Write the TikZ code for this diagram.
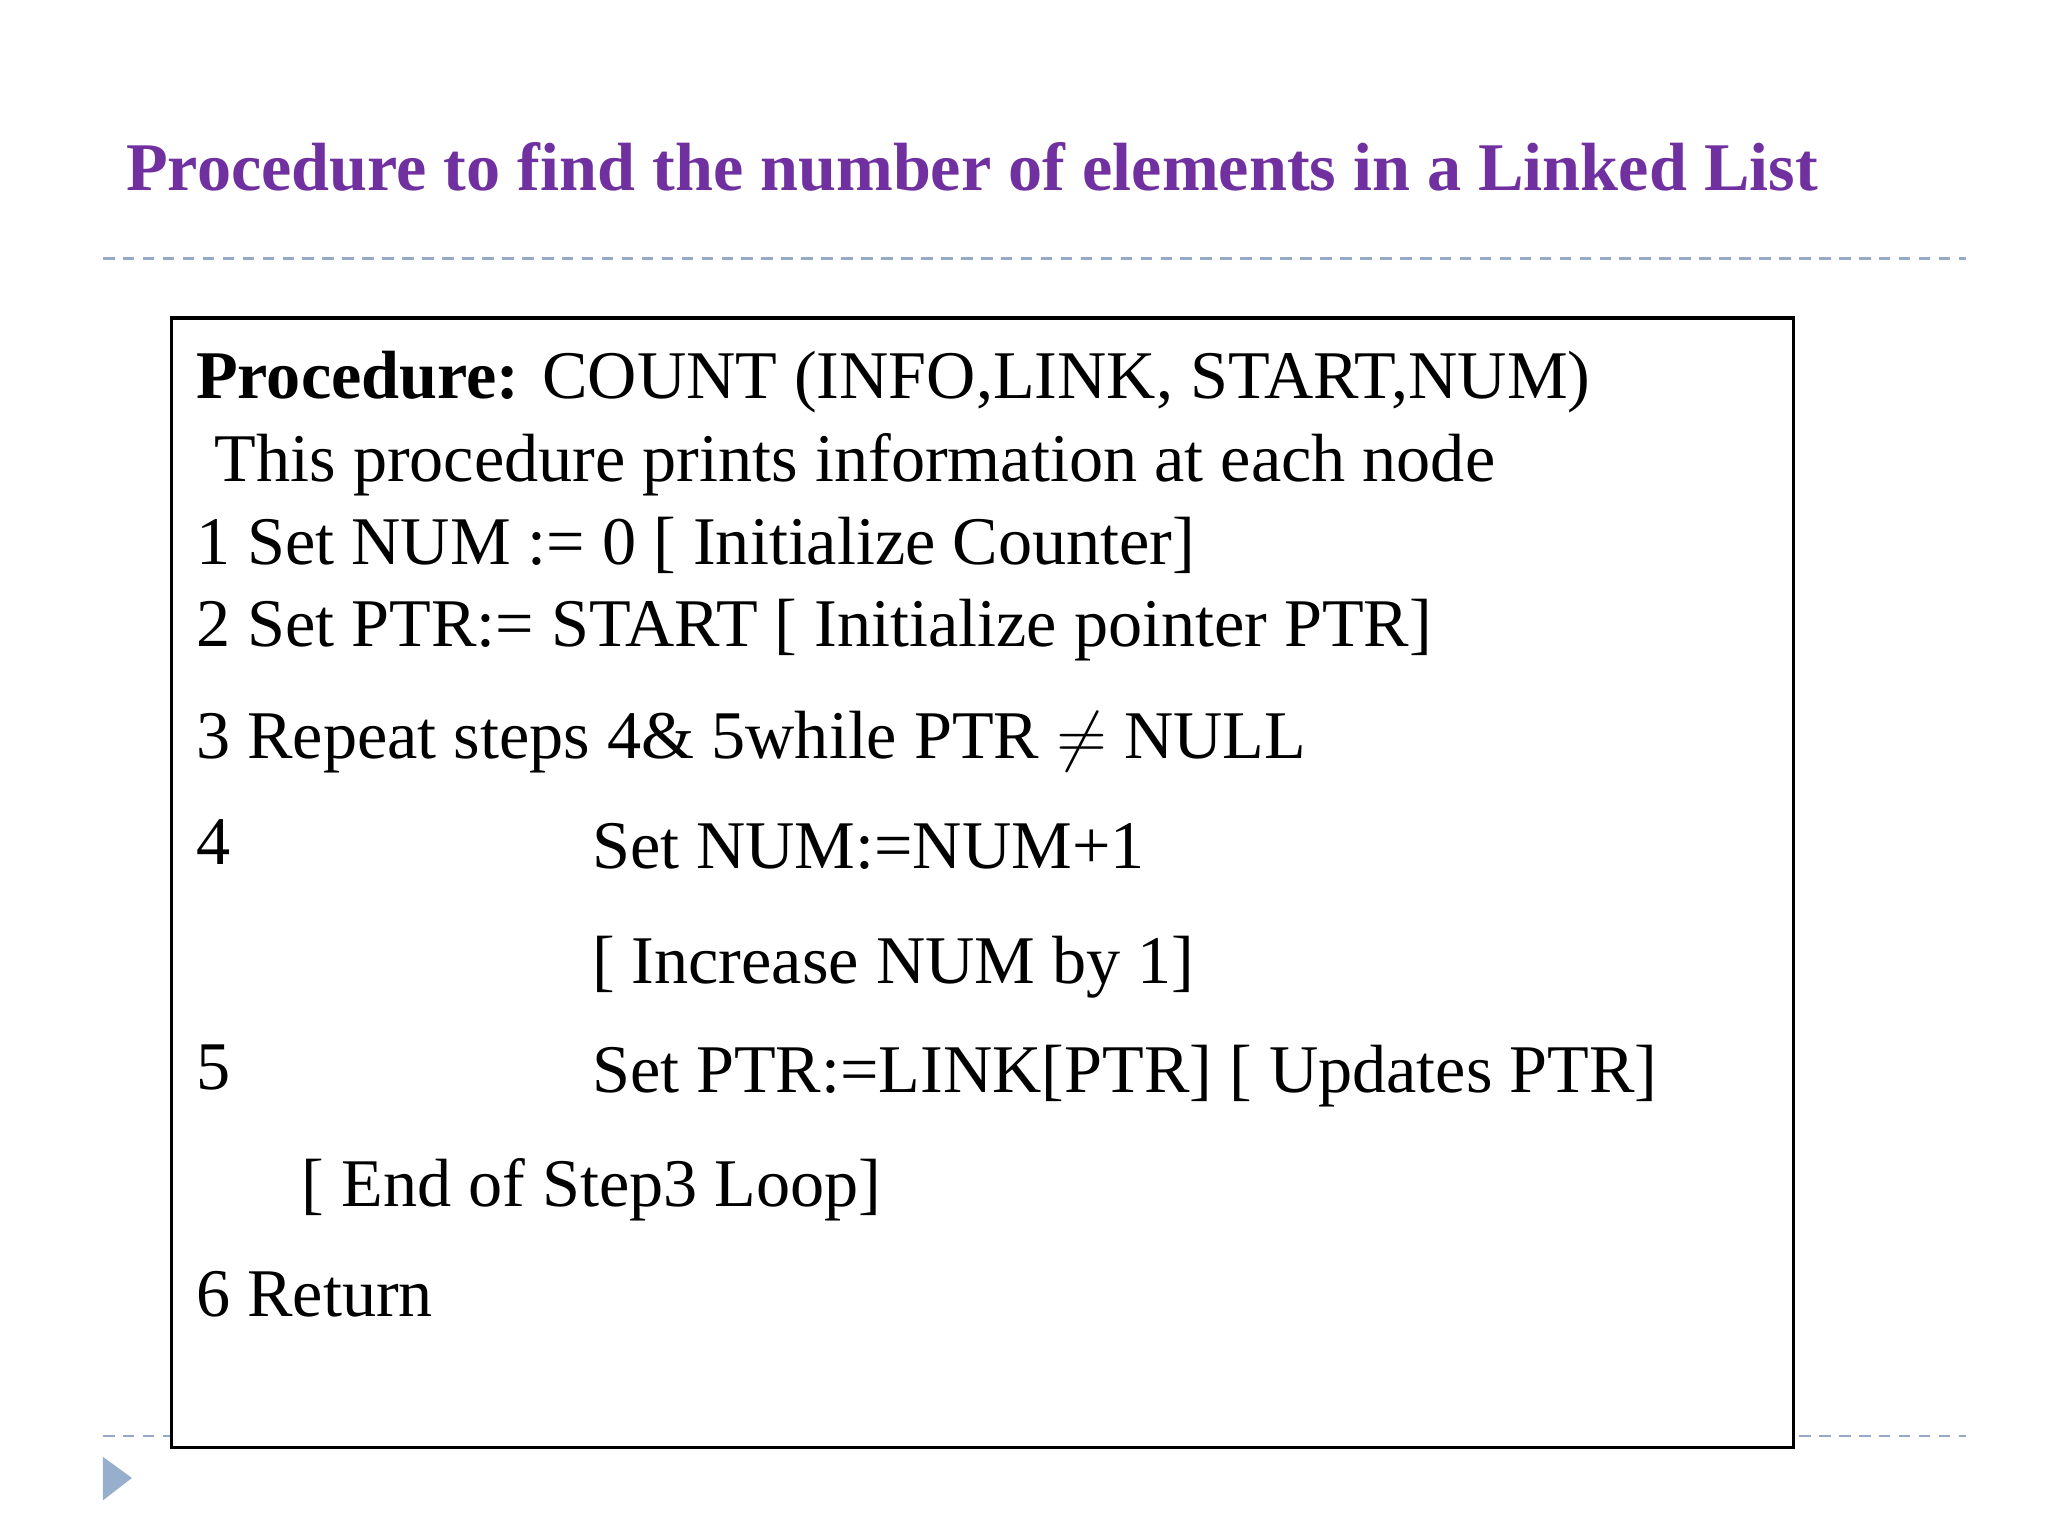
\documentclass[tikz,border=0pt]{standalone}
\usepackage{fontspec}
\setmainfont{Liberation Serif}
\usepackage{amssymb}
\definecolor{ttl}{RGB}{112,48,160}
\definecolor{dashc}{RGB}{150,170,200}
\definecolor{tri}{RGB}{150,175,205}
\begin{document}
\begin{tikzpicture}[x=0.01cm,y=-0.01cm,
  txt/.style={anchor=base west,inner sep=0pt,font=\fontsize{14.7}{18}\selectfont},
  dl/.style={draw=dashc,dash pattern=on 2.5pt off 1.8pt,line width=0.5pt}]
\useasboundingbox (0,0) rectangle (1552,1164);
\node[anchor=base west,inner sep=0pt,text=ttl,font=\fontsize{14.7}{18}\selectfont\bfseries] (title) at (95,144) {Procedure to find the number of elements in a Linked List};
\coordinate (d1a) at (78,196); \coordinate (d1b) at (1490,196);
\coordinate (d2a) at (78,1088); \coordinate (d2b) at (1490,1088);
\draw[dl] (d1a) -- (d1b);
\draw[dl] (d2a) -- (d2b);
\coordinate (bx1) at (130,241); \coordinate (bx2) at (1359,1097);
\filldraw[draw=black,fill=white,line width=0.7pt] (bx1) rectangle (bx2);
\fill[tri] (78,1104) -- (100,1120) -- (78,1137) -- cycle;
\node[txt] (l1) at (148,302) {\textbf{Procedure:} COUNT (INFO,LINK, START,NUM)};
\node[txt] (l2) at (162,365) {This procedure prints information at each node};
\node[txt] (l3) at (148,428) {1 Set NUM := 0 [ Initialize Counter]};
\node[txt] (l4) at (148,490) {2 Set PTR:= START [ Initialize pointer PTR]};
\node[txt] (l5) at (148,575) {3 Repeat steps 4\& 5while PTR $\neq$ NULL};
\node[txt] (l6a) at (148,655) {4};
\node[txt] (l6) at (448,658) {Set NUM:=NUM+1};
\node[txt] (l7) at (448,745) {[ Increase NUM by 1]};
\node[txt] (l8a) at (148,826) {5};
\node[txt] (l8) at (448,828) {Set PTR:=LINK[PTR] [ Updates PTR]};
\node[txt] (l9) at (228,914) {[ End of Step3 Loop]};
\node[txt] (l10) at (148,998) {6 Return};
\end{tikzpicture}
\end{document}
